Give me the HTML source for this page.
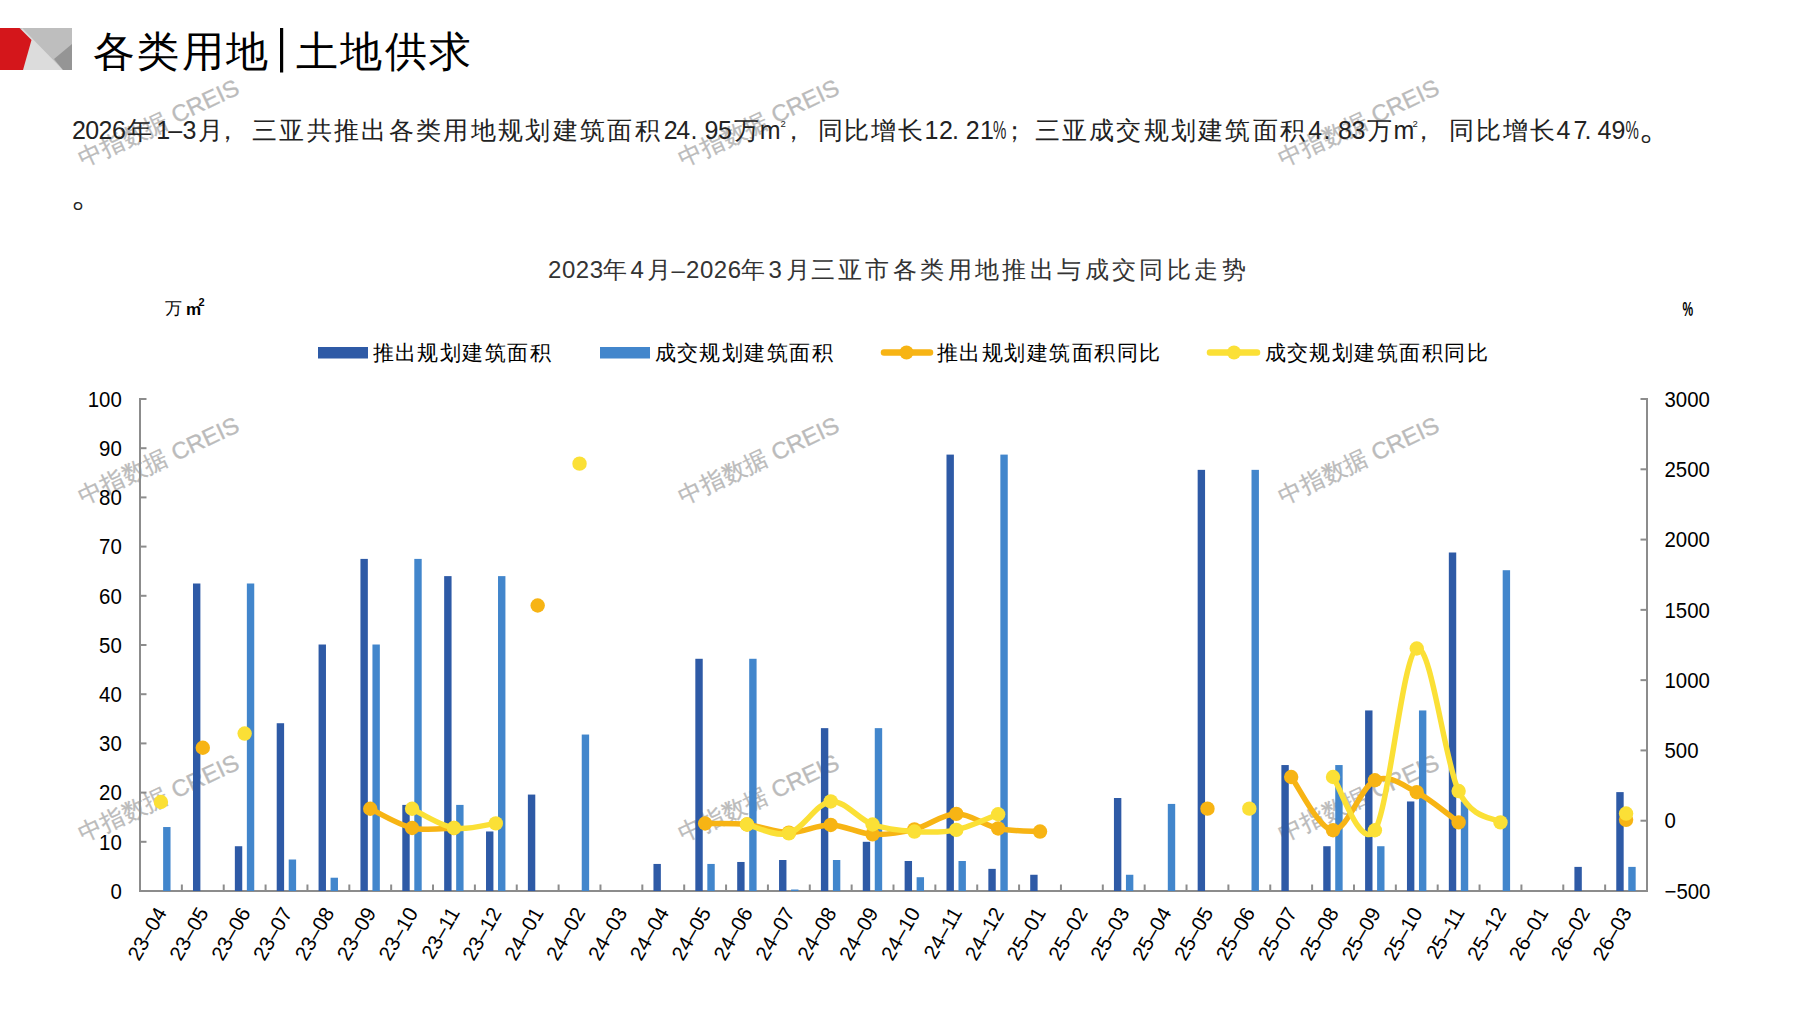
<!DOCTYPE html>
<html><head><meta charset="utf-8"><style>
html,body{margin:0;padding:0;background:#fff;width:1797px;height:1010px;overflow:hidden}
.t{position:absolute;font-family:"Liberation Sans",sans-serif;white-space:nowrap;color:#000}
</style></head><body>
<svg style="position:absolute;left:0;top:0" width="1797" height="1010" viewBox="0 0 1797 1010">
<g font-family="Liberation Sans, sans-serif" font-size="23.5" fill="#BBBBBB" stroke="#BBBBBB" stroke-width="0.3">
<text transform="translate(83,167.0) rotate(-25)">中指数据 CREIS</text>
<text transform="translate(683,167.0) rotate(-25)">中指数据 CREIS</text>
<text transform="translate(1283,167.0) rotate(-25)">中指数据 CREIS</text>
<text transform="translate(83,504.5) rotate(-25)">中指数据 CREIS</text>
<text transform="translate(683,504.5) rotate(-25)">中指数据 CREIS</text>
<text transform="translate(1283,504.5) rotate(-25)">中指数据 CREIS</text>
<text transform="translate(83,842.0) rotate(-25)">中指数据 CREIS</text>
<text transform="translate(683,842.0) rotate(-25)">中指数据 CREIS</text>
<text transform="translate(1283,842.0) rotate(-25)">中指数据 CREIS</text>
</g>
<polygon points="0,28 72,28 72,70 0,70" fill="#BEBEBE"/>
<polygon points="22,28 63,70 0,70" fill="#DCDCDC"/>
<polygon points="72,44 54,59 63,70 72,70" fill="#959595"/>
<polygon points="0,28 19.5,28 31.5,40 23,70 0,70" fill="#D4161B"/>
<g stroke="#8C8C8C" stroke-width="2" fill="none">
<line x1="140.0" y1="398.0" x2="140.0" y2="892.0"/>
<line x1="1647.0" y1="398.0" x2="1647.0" y2="892.0"/>
<line x1="139.0" y1="891.0" x2="1648.0" y2="891.0"/>
<line x1="140.0" y1="891.00" x2="146.5" y2="891.00"/>
<line x1="140.0" y1="841.80" x2="146.5" y2="841.80"/>
<line x1="140.0" y1="792.60" x2="146.5" y2="792.60"/>
<line x1="140.0" y1="743.40" x2="146.5" y2="743.40"/>
<line x1="140.0" y1="694.20" x2="146.5" y2="694.20"/>
<line x1="140.0" y1="645.00" x2="146.5" y2="645.00"/>
<line x1="140.0" y1="595.80" x2="146.5" y2="595.80"/>
<line x1="140.0" y1="546.60" x2="146.5" y2="546.60"/>
<line x1="140.0" y1="497.40" x2="146.5" y2="497.40"/>
<line x1="140.0" y1="448.20" x2="146.5" y2="448.20"/>
<line x1="140.0" y1="399.00" x2="146.5" y2="399.00"/>
<line x1="1640.5" y1="891.00" x2="1647.0" y2="891.00"/>
<line x1="1640.5" y1="820.71" x2="1647.0" y2="820.71"/>
<line x1="1640.5" y1="750.43" x2="1647.0" y2="750.43"/>
<line x1="1640.5" y1="680.14" x2="1647.0" y2="680.14"/>
<line x1="1640.5" y1="609.86" x2="1647.0" y2="609.86"/>
<line x1="1640.5" y1="539.57" x2="1647.0" y2="539.57"/>
<line x1="1640.5" y1="469.29" x2="1647.0" y2="469.29"/>
<line x1="1640.5" y1="399.00" x2="1647.0" y2="399.00"/>
<line x1="181.86" y1="884.5" x2="181.86" y2="891.0"/>
<line x1="223.72" y1="884.5" x2="223.72" y2="891.0"/>
<line x1="265.58" y1="884.5" x2="265.58" y2="891.0"/>
<line x1="307.44" y1="884.5" x2="307.44" y2="891.0"/>
<line x1="349.31" y1="884.5" x2="349.31" y2="891.0"/>
<line x1="391.17" y1="884.5" x2="391.17" y2="891.0"/>
<line x1="433.03" y1="884.5" x2="433.03" y2="891.0"/>
<line x1="474.89" y1="884.5" x2="474.89" y2="891.0"/>
<line x1="516.75" y1="884.5" x2="516.75" y2="891.0"/>
<line x1="558.61" y1="884.5" x2="558.61" y2="891.0"/>
<line x1="600.47" y1="884.5" x2="600.47" y2="891.0"/>
<line x1="642.33" y1="884.5" x2="642.33" y2="891.0"/>
<line x1="684.19" y1="884.5" x2="684.19" y2="891.0"/>
<line x1="726.06" y1="884.5" x2="726.06" y2="891.0"/>
<line x1="767.92" y1="884.5" x2="767.92" y2="891.0"/>
<line x1="809.78" y1="884.5" x2="809.78" y2="891.0"/>
<line x1="851.64" y1="884.5" x2="851.64" y2="891.0"/>
<line x1="893.50" y1="884.5" x2="893.50" y2="891.0"/>
<line x1="935.36" y1="884.5" x2="935.36" y2="891.0"/>
<line x1="977.22" y1="884.5" x2="977.22" y2="891.0"/>
<line x1="1019.08" y1="884.5" x2="1019.08" y2="891.0"/>
<line x1="1060.94" y1="884.5" x2="1060.94" y2="891.0"/>
<line x1="1102.81" y1="884.5" x2="1102.81" y2="891.0"/>
<line x1="1144.67" y1="884.5" x2="1144.67" y2="891.0"/>
<line x1="1186.53" y1="884.5" x2="1186.53" y2="891.0"/>
<line x1="1228.39" y1="884.5" x2="1228.39" y2="891.0"/>
<line x1="1270.25" y1="884.5" x2="1270.25" y2="891.0"/>
<line x1="1312.11" y1="884.5" x2="1312.11" y2="891.0"/>
<line x1="1353.97" y1="884.5" x2="1353.97" y2="891.0"/>
<line x1="1395.83" y1="884.5" x2="1395.83" y2="891.0"/>
<line x1="1437.69" y1="884.5" x2="1437.69" y2="891.0"/>
<line x1="1479.56" y1="884.5" x2="1479.56" y2="891.0"/>
<line x1="1521.42" y1="884.5" x2="1521.42" y2="891.0"/>
<line x1="1563.28" y1="884.5" x2="1563.28" y2="891.0"/>
<line x1="1605.14" y1="884.5" x2="1605.14" y2="891.0"/>
</g>
<rect x="192.99" y="583.50" width="7.4" height="307.50" fill="#2E5AA6"/>
<rect x="234.85" y="846.23" width="7.4" height="44.77" fill="#2E5AA6"/>
<rect x="276.71" y="723.23" width="7.4" height="167.77" fill="#2E5AA6"/>
<rect x="318.57" y="644.51" width="7.4" height="246.49" fill="#2E5AA6"/>
<rect x="360.44" y="558.90" width="7.4" height="332.10" fill="#2E5AA6"/>
<rect x="402.30" y="804.90" width="7.4" height="86.10" fill="#2E5AA6"/>
<rect x="444.16" y="576.12" width="7.4" height="314.88" fill="#2E5AA6"/>
<rect x="486.02" y="831.47" width="7.4" height="59.53" fill="#2E5AA6"/>
<rect x="527.88" y="794.57" width="7.4" height="96.43" fill="#2E5AA6"/>
<rect x="653.46" y="863.94" width="7.4" height="27.06" fill="#2E5AA6"/>
<rect x="695.33" y="658.78" width="7.4" height="232.22" fill="#2E5AA6"/>
<rect x="737.19" y="861.97" width="7.4" height="29.03" fill="#2E5AA6"/>
<rect x="779.05" y="860.00" width="7.4" height="31.00" fill="#2E5AA6"/>
<rect x="820.91" y="728.15" width="7.4" height="162.85" fill="#2E5AA6"/>
<rect x="862.77" y="841.80" width="7.4" height="49.20" fill="#2E5AA6"/>
<rect x="904.63" y="860.99" width="7.4" height="30.01" fill="#2E5AA6"/>
<rect x="946.49" y="454.60" width="7.4" height="436.40" fill="#2E5AA6"/>
<rect x="988.35" y="868.86" width="7.4" height="22.14" fill="#2E5AA6"/>
<rect x="1030.21" y="874.76" width="7.4" height="16.24" fill="#2E5AA6"/>
<rect x="1113.94" y="798.01" width="7.4" height="92.99" fill="#2E5AA6"/>
<rect x="1197.66" y="469.85" width="7.4" height="421.15" fill="#2E5AA6"/>
<rect x="1281.38" y="765.05" width="7.4" height="125.95" fill="#2E5AA6"/>
<rect x="1323.24" y="846.23" width="7.4" height="44.77" fill="#2E5AA6"/>
<rect x="1365.10" y="710.44" width="7.4" height="180.56" fill="#2E5AA6"/>
<rect x="1406.96" y="801.46" width="7.4" height="89.54" fill="#2E5AA6"/>
<rect x="1448.83" y="552.50" width="7.4" height="338.50" fill="#2E5AA6"/>
<rect x="1574.41" y="866.89" width="7.4" height="24.11" fill="#2E5AA6"/>
<rect x="1616.27" y="792.11" width="7.4" height="98.89" fill="#2E5AA6"/>
<rect x="163.13" y="827.04" width="7.4" height="63.96" fill="#4286CC"/>
<rect x="246.85" y="583.50" width="7.4" height="307.50" fill="#4286CC"/>
<rect x="288.71" y="859.51" width="7.4" height="31.49" fill="#4286CC"/>
<rect x="330.57" y="877.72" width="7.4" height="13.28" fill="#4286CC"/>
<rect x="372.44" y="644.51" width="7.4" height="246.49" fill="#4286CC"/>
<rect x="414.30" y="558.90" width="7.4" height="332.10" fill="#4286CC"/>
<rect x="456.16" y="804.90" width="7.4" height="86.10" fill="#4286CC"/>
<rect x="498.02" y="576.12" width="7.4" height="314.88" fill="#4286CC"/>
<rect x="581.74" y="734.54" width="7.4" height="156.46" fill="#4286CC"/>
<rect x="707.33" y="863.94" width="7.4" height="27.06" fill="#4286CC"/>
<rect x="749.19" y="658.78" width="7.4" height="232.22" fill="#4286CC"/>
<rect x="791.05" y="889.52" width="7.4" height="1.48" fill="#4286CC"/>
<rect x="832.91" y="860.00" width="7.4" height="31.00" fill="#4286CC"/>
<rect x="874.77" y="728.15" width="7.4" height="162.85" fill="#4286CC"/>
<rect x="916.63" y="877.22" width="7.4" height="13.78" fill="#4286CC"/>
<rect x="958.49" y="860.99" width="7.4" height="30.01" fill="#4286CC"/>
<rect x="1000.35" y="454.60" width="7.4" height="436.40" fill="#4286CC"/>
<rect x="1125.94" y="874.76" width="7.4" height="16.24" fill="#4286CC"/>
<rect x="1167.80" y="803.92" width="7.4" height="87.08" fill="#4286CC"/>
<rect x="1251.52" y="469.85" width="7.4" height="421.15" fill="#4286CC"/>
<rect x="1335.24" y="765.05" width="7.4" height="125.95" fill="#4286CC"/>
<rect x="1377.10" y="846.23" width="7.4" height="44.77" fill="#4286CC"/>
<rect x="1418.96" y="710.44" width="7.4" height="180.56" fill="#4286CC"/>
<rect x="1460.83" y="801.46" width="7.4" height="89.54" fill="#4286CC"/>
<rect x="1502.69" y="570.22" width="7.4" height="320.78" fill="#4286CC"/>
<rect x="1628.27" y="866.89" width="7.4" height="24.11" fill="#4286CC"/>
<path d="M370.24,808.77 C377.21,811.98 398.14,824.81 412.10,828.02 C426.05,831.23 446.98,828.02 453.96,828.02" fill="none" stroke="#F7B414" stroke-width="5.5" stroke-linecap="round" stroke-linejoin="round"/>
<path d="M705.12,823.53 C712.10,823.69 733.03,822.99 746.99,824.51 C760.94,826.03 774.89,832.59 788.85,832.66 C802.80,832.73 816.75,824.65 830.71,824.93 C844.66,825.21 858.62,833.60 872.57,834.35 C886.52,835.10 900.48,832.85 914.43,829.43 C928.38,826.01 942.34,813.99 956.29,813.83 C970.25,813.66 984.20,825.49 998.15,828.45 C1012.11,831.40 1033.04,831.02 1040.01,831.54" fill="none" stroke="#F7B414" stroke-width="5.5" stroke-linecap="round" stroke-linejoin="round"/>
<path d="M1291.18,777.00 C1298.16,785.88 1319.09,829.73 1333.04,830.27 C1347.00,830.81 1360.95,786.58 1374.90,780.23 C1388.86,773.88 1402.81,785.15 1416.76,792.18 C1430.72,799.21 1451.65,817.36 1458.62,822.40" fill="none" stroke="#F7B414" stroke-width="5.5" stroke-linecap="round" stroke-linejoin="round"/>
<circle cx="202.79" cy="747.76" r="7.2" fill="#F7B414"/>
<circle cx="370.24" cy="808.77" r="7.2" fill="#F7B414"/>
<circle cx="412.10" cy="828.02" r="7.2" fill="#F7B414"/>
<circle cx="453.96" cy="828.02" r="7.2" fill="#F7B414"/>
<circle cx="537.68" cy="605.50" r="7.2" fill="#F7B414"/>
<circle cx="705.12" cy="823.53" r="7.2" fill="#F7B414"/>
<circle cx="746.99" cy="824.51" r="7.2" fill="#F7B414"/>
<circle cx="788.85" cy="832.66" r="7.2" fill="#F7B414"/>
<circle cx="830.71" cy="824.93" r="7.2" fill="#F7B414"/>
<circle cx="872.57" cy="834.35" r="7.2" fill="#F7B414"/>
<circle cx="914.43" cy="829.43" r="7.2" fill="#F7B414"/>
<circle cx="956.29" cy="813.83" r="7.2" fill="#F7B414"/>
<circle cx="998.15" cy="828.45" r="7.2" fill="#F7B414"/>
<circle cx="1040.01" cy="831.54" r="7.2" fill="#F7B414"/>
<circle cx="1207.46" cy="808.63" r="7.2" fill="#F7B414"/>
<circle cx="1291.18" cy="777.00" r="7.2" fill="#F7B414"/>
<circle cx="1333.04" cy="830.27" r="7.2" fill="#F7B414"/>
<circle cx="1374.90" cy="780.23" r="7.2" fill="#F7B414"/>
<circle cx="1416.76" cy="792.18" r="7.2" fill="#F7B414"/>
<circle cx="1458.62" cy="822.40" r="7.2" fill="#F7B414"/>
<circle cx="1626.07" cy="819.87" r="7.2" fill="#F7B414"/>
<path d="M412.10,808.77 C419.07,811.98 440.00,825.59 453.96,828.02 C467.91,830.46 488.84,824.16 495.82,823.39" fill="none" stroke="#FBE036" stroke-width="5.5" stroke-linecap="round" stroke-linejoin="round"/>
<path d="M746.99,824.51 C753.96,825.99 774.89,837.21 788.85,833.37 C802.80,829.52 816.75,802.93 830.71,801.46 C844.66,799.98 858.62,819.50 872.57,824.51 C886.52,829.52 900.48,830.65 914.43,831.54 C928.38,832.43 942.34,832.73 956.29,829.85 C970.25,826.97 991.18,816.85 998.15,814.25" fill="none" stroke="#FBE036" stroke-width="5.5" stroke-linecap="round" stroke-linejoin="round"/>
<path d="M1333.04,777.00 C1340.02,785.88 1360.95,851.69 1374.90,830.27 C1388.86,808.86 1402.81,655.05 1416.76,648.51 C1430.72,641.98 1444.67,762.07 1458.62,791.05 C1472.58,820.03 1493.51,817.18 1500.49,822.40" fill="none" stroke="#FBE036" stroke-width="5.5" stroke-linecap="round" stroke-linejoin="round"/>
<circle cx="160.93" cy="802.02" r="7.2" fill="#FBE036"/>
<circle cx="244.65" cy="733.56" r="7.2" fill="#FBE036"/>
<circle cx="412.10" cy="808.77" r="7.2" fill="#FBE036"/>
<circle cx="453.96" cy="828.02" r="7.2" fill="#FBE036"/>
<circle cx="495.82" cy="823.39" r="7.2" fill="#FBE036"/>
<circle cx="579.54" cy="463.66" r="7.2" fill="#FBE036"/>
<circle cx="746.99" cy="824.51" r="7.2" fill="#FBE036"/>
<circle cx="788.85" cy="833.37" r="7.2" fill="#FBE036"/>
<circle cx="830.71" cy="801.46" r="7.2" fill="#FBE036"/>
<circle cx="872.57" cy="824.51" r="7.2" fill="#FBE036"/>
<circle cx="914.43" cy="831.54" r="7.2" fill="#FBE036"/>
<circle cx="956.29" cy="829.85" r="7.2" fill="#FBE036"/>
<circle cx="998.15" cy="814.25" r="7.2" fill="#FBE036"/>
<circle cx="1249.32" cy="808.63" r="7.2" fill="#FBE036"/>
<circle cx="1333.04" cy="777.00" r="7.2" fill="#FBE036"/>
<circle cx="1374.90" cy="830.27" r="7.2" fill="#FBE036"/>
<circle cx="1416.76" cy="648.51" r="7.2" fill="#FBE036"/>
<circle cx="1458.62" cy="791.05" r="7.2" fill="#FBE036"/>
<circle cx="1500.49" cy="822.40" r="7.2" fill="#FBE036"/>
<circle cx="1626.07" cy="813.55" r="7.2" fill="#FBE036"/>
<g font-family="Liberation Sans, sans-serif" font-size="21.5" fill="#000">
<text transform="translate(121.8,898.70) scale(0.95,1)" text-anchor="end">0</text>
<text transform="translate(121.8,849.50) scale(0.95,1)" text-anchor="end">10</text>
<text transform="translate(121.8,800.30) scale(0.95,1)" text-anchor="end">20</text>
<text transform="translate(121.8,751.10) scale(0.95,1)" text-anchor="end">30</text>
<text transform="translate(121.8,701.90) scale(0.95,1)" text-anchor="end">40</text>
<text transform="translate(121.8,652.70) scale(0.95,1)" text-anchor="end">50</text>
<text transform="translate(121.8,603.50) scale(0.95,1)" text-anchor="end">60</text>
<text transform="translate(121.8,554.30) scale(0.95,1)" text-anchor="end">70</text>
<text transform="translate(121.8,505.10) scale(0.95,1)" text-anchor="end">80</text>
<text transform="translate(121.8,455.90) scale(0.95,1)" text-anchor="end">90</text>
<text transform="translate(121.8,406.70) scale(0.95,1)" text-anchor="end">100</text>
<text transform="translate(1664.5,898.70) scale(0.95,1)">&#8722;500</text>
<text transform="translate(1664.5,828.41) scale(0.95,1)">0</text>
<text transform="translate(1664.5,758.13) scale(0.95,1)">500</text>
<text transform="translate(1664.5,687.84) scale(0.95,1)">1000</text>
<text transform="translate(1664.5,617.56) scale(0.95,1)">1500</text>
<text transform="translate(1664.5,547.27) scale(0.95,1)">2000</text>
<text transform="translate(1664.5,476.99) scale(0.95,1)">2500</text>
<text transform="translate(1664.5,406.70) scale(0.95,1)">3000</text>
<text transform="translate(167.43,912.5) rotate(-60)" text-anchor="end" font-size="20.5">23&#8211;04</text>
<text transform="translate(209.29,912.5) rotate(-60)" text-anchor="end" font-size="20.5">23&#8211;05</text>
<text transform="translate(251.15,912.5) rotate(-60)" text-anchor="end" font-size="20.5">23&#8211;06</text>
<text transform="translate(293.01,912.5) rotate(-60)" text-anchor="end" font-size="20.5">23&#8211;07</text>
<text transform="translate(334.88,912.5) rotate(-60)" text-anchor="end" font-size="20.5">23&#8211;08</text>
<text transform="translate(376.74,912.5) rotate(-60)" text-anchor="end" font-size="20.5">23&#8211;09</text>
<text transform="translate(418.60,912.5) rotate(-60)" text-anchor="end" font-size="20.5">23&#8211;10</text>
<text transform="translate(460.46,912.5) rotate(-60)" text-anchor="end" font-size="20.5">23&#8211;11</text>
<text transform="translate(502.32,912.5) rotate(-60)" text-anchor="end" font-size="20.5">23&#8211;12</text>
<text transform="translate(544.18,912.5) rotate(-60)" text-anchor="end" font-size="20.5">24&#8211;01</text>
<text transform="translate(586.04,912.5) rotate(-60)" text-anchor="end" font-size="20.5">24&#8211;02</text>
<text transform="translate(627.90,912.5) rotate(-60)" text-anchor="end" font-size="20.5">24&#8211;03</text>
<text transform="translate(669.76,912.5) rotate(-60)" text-anchor="end" font-size="20.5">24&#8211;04</text>
<text transform="translate(711.62,912.5) rotate(-60)" text-anchor="end" font-size="20.5">24&#8211;05</text>
<text transform="translate(753.49,912.5) rotate(-60)" text-anchor="end" font-size="20.5">24&#8211;06</text>
<text transform="translate(795.35,912.5) rotate(-60)" text-anchor="end" font-size="20.5">24&#8211;07</text>
<text transform="translate(837.21,912.5) rotate(-60)" text-anchor="end" font-size="20.5">24&#8211;08</text>
<text transform="translate(879.07,912.5) rotate(-60)" text-anchor="end" font-size="20.5">24&#8211;09</text>
<text transform="translate(920.93,912.5) rotate(-60)" text-anchor="end" font-size="20.5">24&#8211;10</text>
<text transform="translate(962.79,912.5) rotate(-60)" text-anchor="end" font-size="20.5">24&#8211;11</text>
<text transform="translate(1004.65,912.5) rotate(-60)" text-anchor="end" font-size="20.5">24&#8211;12</text>
<text transform="translate(1046.51,912.5) rotate(-60)" text-anchor="end" font-size="20.5">25&#8211;01</text>
<text transform="translate(1088.38,912.5) rotate(-60)" text-anchor="end" font-size="20.5">25&#8211;02</text>
<text transform="translate(1130.24,912.5) rotate(-60)" text-anchor="end" font-size="20.5">25&#8211;03</text>
<text transform="translate(1172.10,912.5) rotate(-60)" text-anchor="end" font-size="20.5">25&#8211;04</text>
<text transform="translate(1213.96,912.5) rotate(-60)" text-anchor="end" font-size="20.5">25&#8211;05</text>
<text transform="translate(1255.82,912.5) rotate(-60)" text-anchor="end" font-size="20.5">25&#8211;06</text>
<text transform="translate(1297.68,912.5) rotate(-60)" text-anchor="end" font-size="20.5">25&#8211;07</text>
<text transform="translate(1339.54,912.5) rotate(-60)" text-anchor="end" font-size="20.5">25&#8211;08</text>
<text transform="translate(1381.40,912.5) rotate(-60)" text-anchor="end" font-size="20.5">25&#8211;09</text>
<text transform="translate(1423.26,912.5) rotate(-60)" text-anchor="end" font-size="20.5">25&#8211;10</text>
<text transform="translate(1465.12,912.5) rotate(-60)" text-anchor="end" font-size="20.5">25&#8211;11</text>
<text transform="translate(1506.99,912.5) rotate(-60)" text-anchor="end" font-size="20.5">25&#8211;12</text>
<text transform="translate(1548.85,912.5) rotate(-60)" text-anchor="end" font-size="20.5">26&#8211;01</text>
<text transform="translate(1590.71,912.5) rotate(-60)" text-anchor="end" font-size="20.5">26&#8211;02</text>
<text transform="translate(1632.57,912.5) rotate(-60)" text-anchor="end" font-size="20.5">26&#8211;03</text>
</g>
<rect x="318" y="347" width="50" height="11.5" fill="#2E5AA6"/>
<rect x="600" y="347" width="50" height="11.5" fill="#4286CC"/>
<line x1="884" y1="352.5" x2="930" y2="352.5" stroke="#F7B414" stroke-width="6.5" stroke-linecap="round"/><circle cx="906.5" cy="352.5" r="7" fill="#F7B414"/>
<line x1="1210" y1="352.5" x2="1257" y2="352.5" stroke="#FBE036" stroke-width="6.5" stroke-linecap="round"/><circle cx="1234" cy="352.5" r="7" fill="#FBE036"/>
<text x="372.50 394.95 417.40 439.85 462.30 484.75 507.20 529.65" y="360" font-family="Liberation Sans, sans-serif" font-size="21" fill="#000" font-weight="300">推出规划建筑面积</text>
<text x="654.50 676.95 699.40 721.85 744.30 766.75 789.20 811.65" y="360" font-family="Liberation Sans, sans-serif" font-size="21" fill="#000" font-weight="300">成交规划建筑面积</text>
<text x="937.00 959.45 981.90 1004.35 1026.80 1049.25 1071.70 1094.15 1116.60 1139.05" y="360" font-family="Liberation Sans, sans-serif" font-size="21" fill="#000" font-weight="300">推出规划建筑面积同比</text>
<text x="1264.50 1286.95 1309.40 1331.85 1354.30 1376.75 1399.20 1421.65 1444.10 1466.55" y="360" font-family="Liberation Sans, sans-serif" font-size="21" fill="#000" font-weight="300">成交规划建筑面积同比</text>
<text x="165.00" y="314" font-family="Liberation Sans, sans-serif" font-size="17" fill="#000" font-weight="300">万</text>
<text x="186.00" y="314.5" font-family="Liberation Sans, sans-serif" font-size="17" fill="#000" font-weight="bold">m</text>
<text x="198.50" y="306" font-family="Liberation Sans, sans-serif" font-size="11" fill="#000" font-weight="bold">2</text>
<text transform="translate(1682.6,315.8) scale(0.57,1)" font-family="Liberation Sans, sans-serif" font-size="21" font-weight="bold">%</text>
<text x="548.00" y="278" font-family="Liberation Sans, sans-serif" font-size="24" fill="#333" textLength="55.00" lengthAdjust="spacing" >2023</text>
<text x="603.00" y="278" font-family="Liberation Sans, sans-serif" font-size="24" fill="#333" font-weight="300">年</text>
<text x="630.50" y="278" font-family="Liberation Sans, sans-serif" font-size="24" fill="#333" >4</text>
<text x="647.00" y="278" font-family="Liberation Sans, sans-serif" font-size="24" fill="#333" font-weight="300">月</text>
<text x="671.50" y="278" font-family="Liberation Sans, sans-serif" font-size="24" fill="#333" >&#8211;</text>
<text x="686.00" y="278" font-family="Liberation Sans, sans-serif" font-size="24" fill="#333" textLength="55.00" lengthAdjust="spacing" >2026</text>
<text x="740.50" y="278" font-family="Liberation Sans, sans-serif" font-size="24" fill="#333" font-weight="300">年</text>
<text x="768.50" y="278" font-family="Liberation Sans, sans-serif" font-size="24" fill="#333" >3</text>
<text x="785.50" y="278" font-family="Liberation Sans, sans-serif" font-size="24" fill="#333" font-weight="300">月</text>
<text x="810.50 837.90 865.30 892.70 920.10 947.50 974.90 1002.30 1029.70 1057.10 1084.50 1111.90 1139.30 1166.70 1194.10 1221.50" y="278" font-family="Liberation Sans, sans-serif" font-size="24" fill="#333" font-weight="300">三亚市各类用地推出与成交同比走势</text>
<text x="72.00 85.30 98.60 111.90" y="138.5" font-family="Liberation Sans, sans-serif" font-size="25" fill="#222" >2026</text>
<text x="156.30" y="138.5" font-family="Liberation Sans, sans-serif" font-size="25" fill="#222" >1</text>
<text x="168.30" y="138.5" font-family="Liberation Sans, sans-serif" font-size="25" fill="#222" >&#8211;</text>
<text x="182.60" y="138.5" font-family="Liberation Sans, sans-serif" font-size="25" fill="#222" >3</text>
<text x="663.70 676.20 690.60 704.60 717.90" y="138.5" font-family="Liberation Sans, sans-serif" font-size="25" fill="#222" >24.95</text>
<text x="759.70" y="138.5" font-family="Liberation Sans, sans-serif" font-size="25" fill="#222" >m</text>
<text x="924.40 939.00 952.10 965.80 980.10" y="138.5" font-family="Liberation Sans, sans-serif" font-size="25" fill="#222" >12.21</text>
<text x="1308.30 1323.50 1338.00 1351.60" y="138.5" font-family="Liberation Sans, sans-serif" font-size="25" fill="#222" >4.83</text>
<text x="1393.40" y="138.5" font-family="Liberation Sans, sans-serif" font-size="25" fill="#222" >m</text>
<text x="1556.60 1573.40 1584.50 1597.50 1611.40" y="138.5" font-family="Liberation Sans, sans-serif" font-size="25" fill="#222" >47.49</text>
<text transform="translate(993.0,138.5) scale(0.6,1)" font-family="Liberation Sans, sans-serif" font-size="25" fill="#222">%</text>
<text transform="translate(1625.4,138.5) scale(0.6,1)" font-family="Liberation Sans, sans-serif" font-size="25" fill="#222">%</text>
<text x="780.40" y="127" font-family="Liberation Sans, sans-serif" font-size="9.5" fill="#222" >2</text>
<text x="1412.50" y="127" font-family="Liberation Sans, sans-serif" font-size="9.5" fill="#222" >2</text>
<text x="127.00" y="138.5" font-family="Liberation Sans, sans-serif" font-size="25" fill="#222" font-weight="300">年</text>
<text x="198.00" y="138.5" font-family="Liberation Sans, sans-serif" font-size="25" fill="#222" font-weight="300">月</text>
<text x="215.00" y="138.5" font-family="Liberation Sans, sans-serif" font-size="25" fill="#222" font-weight="300">，</text>
<text x="252.00 279.33 306.66 333.99 361.32 388.65 415.98 443.31 470.64 497.97 525.30 552.63 579.96 607.29 634.62" y="138.5" font-family="Liberation Sans, sans-serif" font-size="25" fill="#222" font-weight="300">三亚共推出各类用地规划建筑面积</text>
<text x="733.50" y="138.5" font-family="Liberation Sans, sans-serif" font-size="25" fill="#222" font-weight="300">万</text>
<text x="781.00" y="138.5" font-family="Liberation Sans, sans-serif" font-size="25" fill="#222" font-weight="300">，</text>
<text x="817.50 844.40 871.30 898.20" y="138.5" font-family="Liberation Sans, sans-serif" font-size="25" fill="#222" font-weight="300">同比增长</text>
<text x="1001.50" y="138.5" font-family="Liberation Sans, sans-serif" font-size="25" fill="#222" font-weight="300">；</text>
<text x="1034.50 1061.76 1089.02 1116.28 1143.54 1170.80 1198.06 1225.32 1252.58 1279.84" y="138.5" font-family="Liberation Sans, sans-serif" font-size="25" fill="#222" font-weight="300">三亚成交规划建筑面积</text>
<text x="1366.50" y="138.5" font-family="Liberation Sans, sans-serif" font-size="25" fill="#222" font-weight="300">万</text>
<text x="1410.50" y="138.5" font-family="Liberation Sans, sans-serif" font-size="25" fill="#222" font-weight="300">，</text>
<text x="1449.00 1476.00 1503.00 1530.00" y="138.5" font-family="Liberation Sans, sans-serif" font-size="25" fill="#222" font-weight="300">同比增长</text>
<text x="70.40" y="206.3" font-family="Liberation Sans, sans-serif" font-size="38" fill="#222" font-weight="300">。</text>
<text x="1637.50" y="138.5" font-family="Liberation Sans, sans-serif" font-size="38" fill="#222" font-weight="300">。</text>
<text x="92.50 137.10 181.70 226.30" y="65.8" font-family="Liberation Sans, sans-serif" font-size="42" fill="#000" font-weight="300">各类用地</text>
<rect x="280" y="28" width="3.2" height="44.5" fill="#000"/>
<text x="295.50 340.10 384.70 429.30" y="65.8" font-family="Liberation Sans, sans-serif" font-size="42" fill="#000" font-weight="300">土地供求</text>
</svg>
</body></html>
